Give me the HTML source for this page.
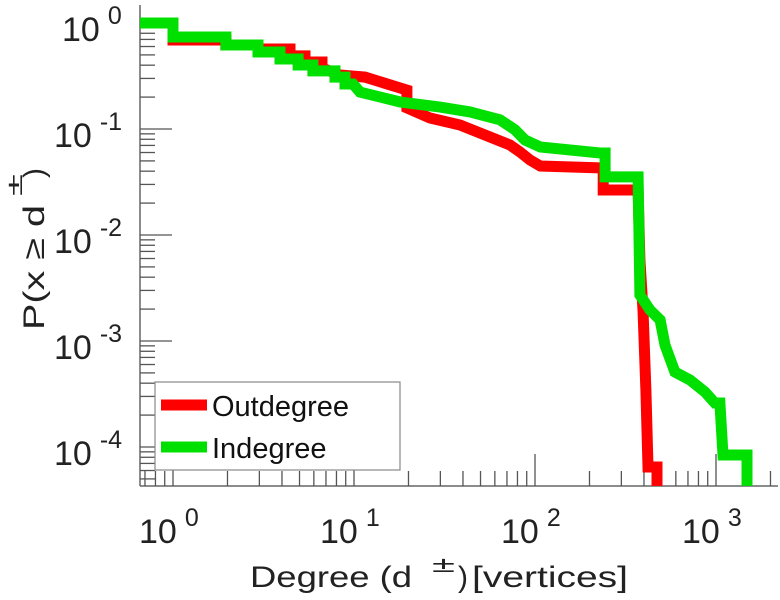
<!DOCTYPE html>
<html><head><meta charset="utf-8"><style>
html,body{margin:0;padding:0;background:#fff}
svg{display:block;font-family:"Liberation Sans",sans-serif}
</style></head><body>
<svg id="chart" width="780" height="600" viewBox="0 0 780 600">
<defs><clipPath id="plotclip"><rect x="140" y="5" width="640" height="481"/></clipPath></defs>
<g id="axes"></g>
<g id="series" clip-path="url(#plotclip)"></g>
<g id="legend">
<rect x="155" y="382" width="245" height="88" fill="#fff" stroke="#888" stroke-width="1.2"/>
<line x1="161" y1="405" x2="207" y2="405" stroke="#ff0000" stroke-width="11"/>
<text x="212" y="416" font-size="29" fill="#111">Outdegree</text>
<line x1="161" y1="447" x2="207" y2="447" stroke="#00e000" stroke-width="11"/>
<text x="212" y="458" font-size="29" fill="#111">Indegree</text>
</g>
<g font-size="30" fill="#222">
<text x="250" y="587" textLength="162" lengthAdjust="spacingAndGlyphs">Degree (d</text>
<text x="432" y="572" font-size="22" textLength="23" lengthAdjust="spacingAndGlyphs">±</text>
<text x="458" y="587">)</text>
<text x="472" y="587" textLength="156" lengthAdjust="spacingAndGlyphs">[vertices]</text>
</g>
<g font-size="30" fill="#222">
<text transform="translate(44,330) rotate(-90)" textLength="125" lengthAdjust="spacingAndGlyphs">P(x ≥ d</text>
<text transform="translate(22,196) rotate(-90)" font-size="22" textLength="22" lengthAdjust="spacingAndGlyphs">±</text>
<text transform="translate(44,178) rotate(-90)">)</text>
</g>
</svg>
<script>
const xTicks = [0, 1, 2, 3];
const yTicks = [0, -1, -2, -3, -4];
const outDeg = [0.657,1,1,1.96,1.96,2.95,2.95,4.43,4.43,5.36,5.36,6.66,6.66,8.37,11.5,17.9,19.6,19.6,26.3,38.5,49.7,72.8,82.6,93.8,107,238,238,371,380,395,410,421,472,472];
const outP = [1,1,0.691,0.691,0.620,0.620,0.569,0.569,0.489,0.489,0.429,0.429,0.376,0.323,0.309,0.244,0.233,0.158,0.127,0.109,0.0917,0.0706,0.0607,0.0510,0.0448,0.0429,0.0266,0.0266,0.00581,0.00196,0.000345,0.0000648,0.0000648,0.000043];
const inDeg = [0.657,1,1,1.96,1.96,2.95,2.95,3.90,3.90,4.91,4.91,5.93,5.93,7.85,7.85,8.92,8.92,9.87,10.8,17.9,29.9,43.7,64.1,77.6,88.1,107,229,244,244,371,380,432,491,523,593,718,869,986,1051,1093,1483,1483];
const inP = [1,1,0.738,0.738,0.620,0.620,0.533,0.533,0.457,0.457,0.402,0.402,0.353,0.353,0.309,0.309,0.266,0.266,0.223,0.180,0.161,0.145,0.122,0.098,0.0787,0.0677,0.0594,0.0594,0.0353,0.0353,0.00272,0.00196,0.00158,0.000917,0.000510,0.000429,0.000330,0.000260,0.000260,0.0000841,0.0000841,0.000043];

const NS = 'http://www.w3.org/2000/svg';
const X0 = 173, XD = 181, Y0 = 23, YD = 106;
function xs(v){ return X0 + Math.log10(v) * XD; }
function ys(v){ return Y0 - Math.log10(v) * YD; }
const axes = document.getElementById('axes');
function mk(tag, attrs, parent){ const e = document.createElementNS(NS, tag); for (const k in attrs) e.setAttribute(k, attrs[k]); parent.appendChild(e); return e; }
function powLabel(x, y, exp){
  const t = mk('text', {x:x, y:y, 'font-size':34, fill:'#222'}, axes);
  t.appendChild(document.createTextNode('10'));
  const s = mk('tspan', {dx:8, dy:-17, 'font-size':25}, t);
  s.textContent = String(exp);
  return t;
}

const L = 140, B = 486, R = 778, T = 5;
let el = mk('line', {x1:L, y1:T, x2:L, y2:B, stroke:'#666', 'stroke-width':1.5}, axes);


el = mk('line', {x1:L, y1:B, x2:R, y2:B, stroke:'#666', 'stroke-width':1.5}, axes);



for (let e = -1; e <= 3; e++) {
  for (let m = 1; m <= 9; m++) {
    const px = xs(m * Math.pow(10, e));
    if (px < L || px > R) continue;
    const len = m === 1 ? 32 : 15;
    const t = mk('line', {x1:px, y1:B, x2:px, y2:B - len, stroke:'#555', 'stroke-width':1.3}, axes);
    
    
  }
}
xTicks.forEach(e => {
  const px = xs(Math.pow(10, e));
  const t = powLabel(px - 34, 543, e);
  
  
});
for (let e = -5; e <= 0; e++) {
  for (let m = 1; m <= 9; m++) {
    const py = ys(m * Math.pow(10, e));
    if (py < T || py > B) continue;
    const len = m === 1 ? 32 : 15;
    const t = mk('line', {x1:L, y1:py, x2:L + len, y2:py, stroke:'#555', 'stroke-width':1.3}, axes);
    
    
  }
}
yTicks.forEach(e => {
  const py = ys(Math.pow(10, e));
  const t = powLabel(e === 0 ? 62 : 54, py + 18, e);
  
  
});

const series = document.getElementById('series');
function draw(xsArr, ysArr, color, name){
  const pts = xsArr.map((d, i) => xs(d).toFixed(1) + ',' + ys(ysArr[i]).toFixed(1)).join(' ');
  const p = mk('polyline', {points:pts, fill:'none', stroke:color, 'stroke-width':11, 'stroke-linejoin':'miter', 'stroke-linecap':'butt'}, series);
  
  
}
draw(outDeg, outP, '#ff0000', 'outdegree-line');
draw(inDeg, inP, '#00e000', 'indegree-line');
</script>
</body></html>
